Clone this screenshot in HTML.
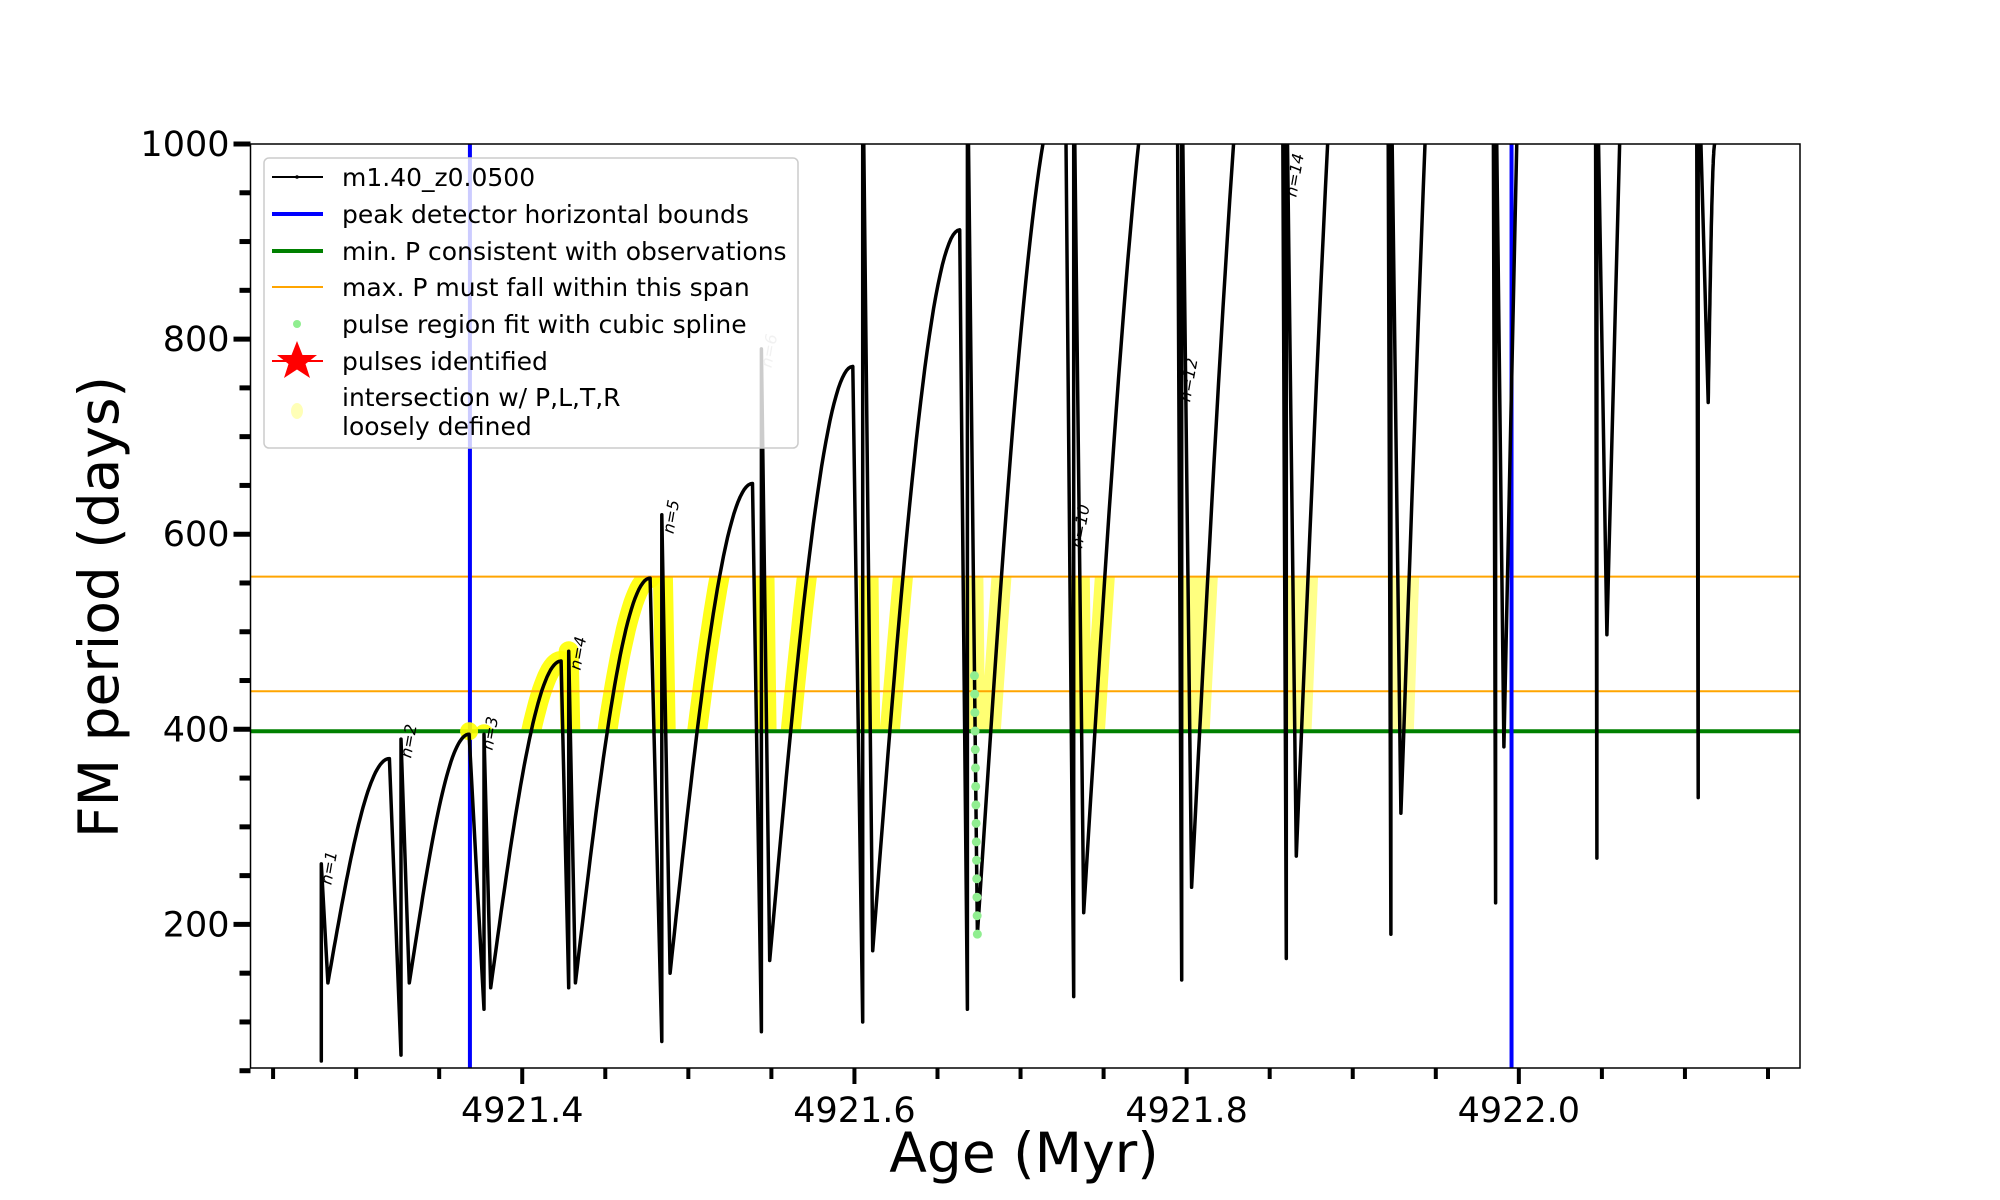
<!DOCTYPE html>
<html><head><meta charset="utf-8">
<style>
html,body{margin:0;padding:0;background:#fff;}
svg{display:block;font-family:"DejaVu Sans","Liberation Sans",sans-serif;}
</style></head>
<body>
<svg id="chart" width="2000" height="1200" viewBox="0 0 2000 1200">
<defs>
<clipPath id="plotclip"><rect x="250.5" y="144" width="1549.5" height="924"/></clipPath>
</defs>
<rect x="0" y="0" width="2000" height="1200" fill="#fff"/>
<g id="yellowLayer" clip-path="url(#plotclip)"></g>
<g id="refLines" clip-path="url(#plotclip)"></g>
<g id="curveLayer" clip-path="url(#plotclip)"></g>
<g id="greenLayer" clip-path="url(#plotclip)"></g>
<g id="labelLayer" clip-path="url(#plotclip)"></g>
<rect x="250.5" y="144" width="1549.5" height="924" fill="none" stroke="#000" stroke-width="1.5"/>
<g id="axes"></g>
<text x="1024" y="1172" font-size="55" text-anchor="middle">Age (Myr)</text>
<text transform="translate(118,607) rotate(-90)" font-size="55" text-anchor="middle">FM period (days)</text>
<g>
<rect x="264" y="158" width="534" height="290" rx="5" fill="#fff" fill-opacity="0.8" stroke="#ccc" stroke-width="1.5"/>
<g><line x1="272" y1="177" x2="323" y2="177" stroke="#000" stroke-width="2"/><circle cx="297" cy="177" r="1.8" fill="#000"/><text x="342" y="186" font-size="25">m1.40_z0.0500</text></g>
<g><line x1="272" y1="214" x2="323" y2="214" stroke="#0000ff" stroke-width="4"/><text x="342" y="223" font-size="25">peak detector horizontal bounds</text></g>
<g><line x1="272" y1="251" x2="323" y2="251" stroke="#008000" stroke-width="4"/><text x="342" y="260" font-size="25">min. P consistent with observations</text></g>
<g><line x1="272" y1="287" x2="323" y2="287" stroke="#ffa500" stroke-width="2"/><text x="342" y="296" font-size="25">max. P must fall within this span</text></g>
<g><circle cx="297" cy="324" r="4" fill="#90ee90"/><text x="342" y="333" font-size="25">pulse region fit with cubic spline</text></g>
<g><line x1="272" y1="361" x2="323" y2="361" stroke="#ff0000" stroke-width="2"/><polygon points="297,341 302.5,355 317,355 305.5,364 310,378 297,369.5 284,378 288.5,364 277,355 291.5,355" fill="#ff0000"/><text x="342" y="370" font-size="25">pulses identified</text></g>
<g><ellipse cx="297" cy="411" rx="6" ry="8" fill="#ffff99" fill-opacity="0.7"/><text x="342" y="406" font-size="25">intersection w/ P,L,T,R</text><text x="342" y="435" font-size="25">loosely defined</text></g>
</g>
</svg>
<script>
// ---- data ----
const pulseAge = [4921.279, 4921.327, 4921.377, 4921.428, 4921.484, 4921.544, 4921.605, 4921.668, 4921.732, 4921.797, 4921.860, 4921.923, 4921.986, 4922.047, 4922.108];
const pulseMin = [60, 66, 113, 135, 80, 90, 100, 113, 126, 143, 165, 190, 222, 268, 330];
const spikeTop = [262, 390, 395, 480, 620, 790, 1100, 1100, 1100, 1100, 1100, 1100, 1100, 1100, 1100];
const dipAge = [4921.283, 4921.332, 4921.381, 4921.432, 4921.489, 4921.549, 4921.611, 4921.674, 4921.738, 4921.803, 4921.866, 4921.929, 4921.991, 4922.053, 4922.114];
const dipVal = [140, 140, 135, 140, 150, 163, 173, 190, 212, 238, 270, 314, 382, 497, 735];
const peakAge = [4921.320, 4921.368, 4921.4234, 4921.477, 4921.5386, 4921.599, 4921.6634, 4921.727, 4921.794, 4921.857, 4921.920, 4921.983, 4922.044, 4922.105, 4922.118];
const peakVal = [370, 395, 470, 555, 652, 772, 912, 1070, 1197, 1375, 1670, 1990, 3100, 2680, 1000];
const startVal = 215;
const yellowAlpha = [0, 0, 0.9, 0.9, 0.9, 0.85, 0.75, 0.55, 0.65, 0.5, 0.45, 0.4, 0, 0, 0];
const bandLow = 400, bandHigh = 556;
const minP = 398;
const maxPLow = 439, maxPHigh = 556.5;
const boundAges = [4921.3685, 4921.9956];
const splineCycle = 7, splineTop = 455;
const dotAge = 4921.368, dotVal = 398;
const labelText = ["n=1", "n=2", "n=3", "n=4", "n=5", "n=6", "n=10", "n=12", "n=14"];
const labelAge = [4921.285, 4921.333, 4921.382, 4921.435, 4921.491, 4921.550, 4921.737, 4921.802, 4921.866];
const labelVal = [240, 370, 378, 460, 600, 770, 585, 735, 945];
const labelGrey = [0, 0, 0, 0, 0, 1, 0, 0, 0];
const xMajor = [4921.4, 4921.6, 4921.8, 4922.0];
const xMajorLabels = ["4921.4", "4921.6", "4921.8", "4922.0"];
const xMinor = [4921.25, 4921.3, 4921.35, 4921.45, 4921.5, 4921.55, 4921.65, 4921.7, 4921.75, 4921.85, 4921.9, 4921.95, 4922.05, 4922.1, 4922.15];
const yMajor = [200, 400, 600, 800, 1000];
const yMajorLabels = ["200", "400", "600", "800", "1000"];
const yMinor = [50, 100, 150, 250, 300, 350, 450, 500, 550, 650, 700, 750, 850, 900, 950];

// ---- scales ----
const X0 = 4921.2364, XPX = 1661, L = 250.5, R = 1800, T = 144, B = 1068;
function X(a){ return L + (a - X0) * XPX; }
function Y(v){ return T + (1000 - v) * 0.9755; }
const NS = "http://www.w3.org/2000/svg";
function mk(tag, attrs, parent){ const e = document.createElementNS(NS, tag); for (const k in attrs) e.setAttribute(k, attrs[k]); parent.appendChild(e); return e; }

// build cycles
const cycles = [];
for (let i = 0; i < pulseAge.length; i++) {
  const pts = [];
  if (i === 0) pts.push([pulseAge[0], startVal]);
  pts.push([pulseAge[i], pulseMin[i]]);
  pts.push([pulseAge[i], spikeTop[i]]);
  pts.push([dipAge[i], dipVal[i]]);
  const N = 40;
  for (let k = 1; k <= N; k++) {
    const s = k / N;
    pts.push([dipAge[i] + s * (peakAge[i] - dipAge[i]), dipVal[i] + (peakVal[i] - dipVal[i]) * Math.sin(s * Math.PI / 2)]);
  }
  cycles.push(pts);
}

// yellow highlights
const yl = document.getElementById('yellowLayer');
const bandClip = mk('clipPath', {id: 'bandclip'}, document.querySelector('defs'));
mk('rect', {x: L, y: Y(bandHigh), width: R - L, height: Y(bandLow) - Y(bandHigh)}, bandClip);
const yg = mk('g', {'clip-path': 'url(#bandclip)'}, yl);
cycles.forEach((pts, i) => {
  if (!yellowAlpha[i]) return;
  const p = mk('polyline', {points: pts.slice(i === 0 ? 2 : 1).map(q => X(q[0]).toFixed(1) + ',' + Y(q[1]).toFixed(1)).join(' '), fill: 'none', stroke: '#ffff00', 'stroke-width': 20, 'stroke-linecap': 'round', 'stroke-linejoin': 'round', 'stroke-opacity': yellowAlpha[i]}, yg);
  
  
});

// reference lines
const rl = document.getElementById('refLines');
let e;
e = mk('line', {x1: L, x2: R, y1: Y(maxPHigh), y2: Y(maxPHigh), stroke: '#ffa500', 'stroke-width': 2}, rl);


e = mk('line', {x1: L, x2: R, y1: Y(maxPLow), y2: Y(maxPLow), stroke: '#ffa500', 'stroke-width': 2}, rl);


e = mk('line', {x1: L, x2: R, y1: Y(minP), y2: Y(minP), stroke: '#008000', 'stroke-width': 4}, rl);


boundAges.forEach(a => {
  const b = mk('line', {x1: X(a), x2: X(a), y1: T, y2: B, stroke: '#0000ff', 'stroke-width': 4}, rl);
  
  
});
e = mk('circle', {cx: X(dotAge), cy: Y(dotVal), r: 9, fill: '#ffff00', 'fill-opacity': 0.9}, rl);



// curve
const cl = document.getElementById('curveLayer');
let all = [];
cycles.forEach(p => { all = all.concat(p); });
e = mk('polyline', {points: all.map(q => X(q[0]).toFixed(1) + ',' + Y(q[1]).toFixed(1)).join(' '), fill: 'none', stroke: '#000', 'stroke-width': 3.5, 'stroke-linejoin': 'round'}, cl);



// spline green points
const gl = document.getElementById('greenLayer');
{
  const a0 = pulseAge[splineCycle], v0 = spikeTop[splineCycle], a1 = dipAge[splineCycle], v1 = dipVal[splineCycle];
  for (let k = 0; k <= 14; k++) {
    const v = splineTop - (splineTop - v1) * k / 14;
    const t = (v0 - v) / (v0 - v1);
    const g = mk('circle', {cx: X(a0 + t * (a1 - a0)), cy: Y(v), r: 4.5, fill: '#90ee90'}, gl);
    
    
  }
}

// labels
const ll = document.getElementById('labelLayer');
labelText.forEach((t, i) => {
  const x = X(labelAge[i]), y = Y(labelVal[i]);
  const tx = mk('text', {transform: `translate(${x},${y}) rotate(-80)`, 'font-size': 16, 'font-style': 'italic', fill: labelGrey[i] ? '#bbb' : '#000'}, ll);
  tx.textContent = t;
  
  
});

// axes
const ax = document.getElementById('axes');
xMajor.forEach((a, i) => {
  const t = mk('line', {x1: X(a), x2: X(a), y1: B, y2: B + 16, stroke: '#000', 'stroke-width': 4}, ax);
  
  
  const lb = mk('text', {x: X(a), y: 1122, 'font-size': 35, 'text-anchor': 'middle'}, ax);
  lb.textContent = xMajorLabels[i];
  
  
});
xMinor.forEach(a => {
  const t = mk('line', {x1: X(a), x2: X(a), y1: B, y2: B + 11, stroke: '#000', 'stroke-width': 4}, ax);
  
  
});
yMajor.forEach((v, i) => {
  const t = mk('line', {x1: L - 17, x2: L, y1: Y(v), y2: Y(v), stroke: '#000', 'stroke-width': 5}, ax);
  
  
  const lb = mk('text', {x: L - 21, y: Y(v) + 12, 'font-size': 35, 'text-anchor': 'end'}, ax);
  lb.textContent = yMajorLabels[i];
  
  
});
yMinor.forEach(v => {
  const t = mk('line', {x1: L - 11, x2: L, y1: Y(v), y2: Y(v), stroke: '#000', 'stroke-width': 5}, ax);
  
  
});
</script>
</body></html>
